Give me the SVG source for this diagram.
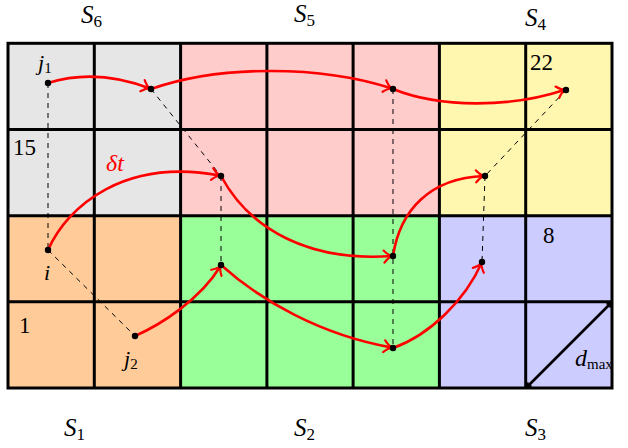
<svg xmlns="http://www.w3.org/2000/svg" width="628" height="448" viewBox="0 0 628 448">
<style>
.grid{stroke:#000;stroke-width:3;fill:none}
.dash{stroke:#000;stroke-width:1;stroke-dasharray:5,5;fill:none}
.flow{stroke:#f00;stroke-width:2.6;fill:none;marker-end:url(#ah)}
.dot{fill:#000}
.lbl{font-family:"Liberation Serif",serif;font-style:italic;fill:#000}
.num{font-family:"Liberation Serif",serif;font-size:23px;fill:#000}
.sub{font-style:normal}
</style>
<defs>
<marker id="ah" markerUnits="userSpaceOnUse" markerWidth="20" markerHeight="20" refX="0" refY="0" viewBox="-10 -10 20 20" orient="auto" overflow="visible">
<path d="M-8,-6 C-5,-2.5 -2,-0.6 0,0 C-2,0.6 -5,2.5 -8,6" stroke="#f00" stroke-width="2.2" fill="none" stroke-linecap="round"/>
</marker>
<marker id="bh" markerUnits="userSpaceOnUse" markerWidth="20" markerHeight="20" refX="0" refY="0" viewBox="-10 -10 20 20" orient="auto-start-reverse" overflow="visible">
<path d="M-4,-2.5 L0,0 L-4,2.5" stroke="#000" stroke-width="1.8" fill="none"/>
</marker>
</defs>
<g id="regions">
<g id="S6"><rect x="8" y="43.3" width="172.6" height="172.4" fill="#e6e6e6"/></g>
<g id="S5"><rect x="180.6" y="43.3" width="258.8" height="172.4" fill="#ffcccc"/></g>
<g id="S4"><rect x="439.4" y="43.3" width="172.6" height="172.4" fill="#fff7b0"/></g>
<g id="S1"><rect x="8" y="215.7" width="172.6" height="172.3" fill="#ffcc99"/></g>
<g id="S2"><rect x="180.6" y="215.7" width="258.8" height="172.3" fill="#99ff99"/></g>
<g id="S3"><rect x="439.4" y="215.7" width="172.6" height="172.3" fill="#ccccff"/></g>
</g>
<g id="gridlines" class="grid">
<rect x="8" y="43.3" width="604" height="344.7"/>
<path d="M94.3,43.3V388 M180.6,43.3V388 M266.9,43.3V388 M353.1,43.3V388 M439.4,43.3V388 M525.7,43.3V388"/>
<path d="M8,129.5H612 M8,215.7H612 M8,301.8H612"/>
</g>
<g id="dmax">
<line x1="527" y1="387" x2="611" y2="303" stroke="#000" stroke-width="2.6" marker-start="url(#bh)" marker-end="url(#bh)"/>
</g>
<g id="connectors">
<g id="dashes" class="dash">
<line x1="48" y1="83" x2="48" y2="250"/>
<line x1="48" y1="250" x2="135" y2="336"/>
<line x1="151" y1="89" x2="221" y2="176"/>
<line x1="221" y1="176" x2="221" y2="265"/>
<line x1="393" y1="89" x2="393" y2="348"/>
<line x1="566" y1="90" x2="485" y2="176"/>
<line x1="485" y1="176" x2="482" y2="262"/>
</g>
<g id="flows" class="flow">
<path d="M48,83 C80,73 115,75 150,88.5"/>
<path d="M151,89 C220,65 320,65 392,88.5"/>
<path d="M393,89 C440,108 510,108 565,89.7"/>
<path d="M48,250 C68,205 125,158 220,175.5"/>
<path d="M221,176 C250,230 310,262 392,256"/>
<path d="M393,256 C400,210 430,178 484,176"/>
<path d="M135,336 C160,325 200,300 220.5,266"/>
<path d="M221,265 C260,300 320,335 392,347.6"/>
<path d="M393,348 C430,335 465,300 481.6,263"/>
</g>
</g>
<g id="points" class="dot">
<circle cx="48" cy="83" r="3.2"/>
<circle cx="151" cy="89" r="3.2"/>
<circle cx="221" cy="176" r="3.2"/>
<circle cx="393" cy="89" r="3.2"/>
<circle cx="566" cy="90" r="3.2"/>
<circle cx="485" cy="176" r="3.2"/>
<circle cx="48" cy="250" r="3.2"/>
<circle cx="135" cy="336" r="3.2"/>
<circle cx="221" cy="265" r="3.2"/>
<circle cx="393" cy="256" r="3.2"/>
<circle cx="393" cy="348" r="3.2"/>
<circle cx="482" cy="262" r="3.2"/>
</g>
<g id="labels">
<text class="lbl" x="81" y="23" font-size="25">S<tspan class="sub" font-size="17" dy="4">6</tspan></text>
<text class="lbl" x="294" y="22" font-size="25">S<tspan class="sub" font-size="17" dy="4">5</tspan></text>
<text class="lbl" x="525" y="26" font-size="25">S<tspan class="sub" font-size="17" dy="4">4</tspan></text>
<text class="lbl" x="64" y="436" font-size="25">S<tspan class="sub" font-size="17" dy="4">1</tspan></text>
<text class="lbl" x="294" y="436" font-size="25">S<tspan class="sub" font-size="17" dy="4">2</tspan></text>
<text class="lbl" x="525" y="436" font-size="25">S<tspan class="sub" font-size="17" dy="4">3</tspan></text>
<text class="num" x="13" y="155">15</text>
<text class="num" x="19" y="333">1</text>
<text class="num" x="530" y="70">22</text>
<text class="num" x="543" y="243">8</text>
<text class="lbl" x="38" y="70" font-size="22">j<tspan class="sub" font-size="15" dy="3">1</tspan></text>
<text class="lbl" x="44" y="280" font-size="22">i</text>
<text class="lbl" x="124" y="366" font-size="22">j<tspan class="sub" font-size="15" dy="3">2</tspan></text>
<text class="lbl" x="106" y="171" font-size="24" fill="#f00" style="fill:#f00">δt</text>
<text class="lbl" x="575" y="366" font-size="24">d<tspan class="sub" font-size="15" dy="3">max</tspan></text>
</g>
</svg>
